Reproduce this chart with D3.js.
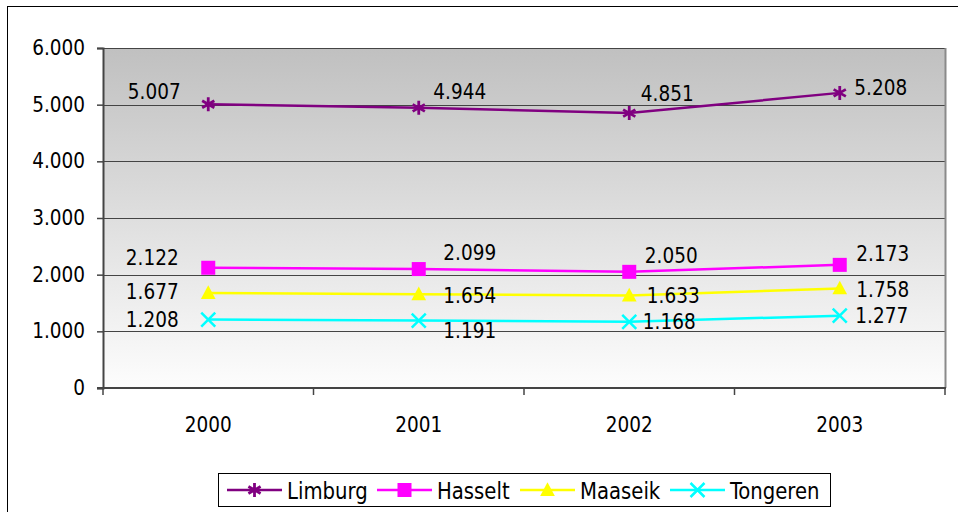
<!DOCTYPE html>
<html lang="en">
<head>
  <meta charset="UTF-8" />
  <title>Limburg</title>
  <script src="https://d3js.org/d3.v7.min.js"></script>
  <style>
    body { margin: 0; background: #fff; }
    svg { display: block; font-family: 'DejaVu Sans Condensed', 'DejaVu Sans', sans-serif; }
  </style>
</head>
<body>
  <svg id="chart" width="958" height="512"></svg>
  <script>
    const years = ["2000", "2001", "2002", "2003"];
    const seriesNames = ["Limburg", "Hasselt", "Maaseik", "Tongeren"];
    const limburg = [5007, 4944, 4851, 5208];
    const hasselt = [2122, 2099, 2050, 2173];
    const maaseik = [1677, 1654, 1633, 1758];
    const tongeren = [1208, 1191, 1168, 1277];
    const yTicks = [0, 1000, 2000, 3000, 4000, 5000, 6000];

    const colors = ["#800080", "#ff00ff", "#ffff00", "#00ffff"];
    const markers = ["star", "square", "triangle", "cross"];
    // label offsets (px) per series / point, like the excel layout
    const labelOffsets = [
      [[-54, -12], [41, -16], [38, -19], [41, -5]],
      [[-56, -10], [51, -16], [42, -16], [43, -11]],
      [[-56, -1], [51, 2], [44, 1], [43, 2]],
      [[-56, 0], [51, 10], [40, 0], [42, 0]]
    ];

    const allSeries = [limburg, hasselt, maaseik, tongeren];
    const fmt = v => d3.format(",")(v).replace(/,/g, ".");
    const fontSize = "20.5px";

    const svg = d3.select("#chart");
    const plot = { left: 103, right: 945, top: 48, bottom: 388 };

    const x = d3.scaleBand().domain(years).range([plot.left, plot.right]);
    const y = d3.scaleLinear().domain([0, 6000]).range([plot.bottom, plot.top]);

    // outer chart border
    svg.append("rect")
      .attr("x", 7.5).attr("y", 6.5).attr("width", 980).attr("height", 540)
      .attr("fill", "none").attr("stroke", "#000").attr("stroke-width", 1);

    const defs = svg.append("defs");
    const grad = defs.append("linearGradient").attr("id", "bg")
      .attr("x1", 0).attr("y1", 0).attr("x2", 0).attr("y2", 1);
    grad.append("stop").attr("offset", "0%").attr("stop-color", "#c0c0c0");
    grad.append("stop").attr("offset", "100%").attr("stop-color", "#fdfdfd");

    svg.append("rect")
      .attr("x", plot.left).attr("y", plot.top)
      .attr("width", plot.right - plot.left).attr("height", plot.bottom - plot.top)
      .attr("fill", "url(#bg)");

    // gridlines
    svg.append("g").selectAll("line")
      .data(yTicks.filter(d => d > 0))
      .join("line")
      .attr("x1", plot.left).attr("x2", plot.right)
      .attr("y1", d => Math.round(y(d)) + 0.5).attr("y2", d => Math.round(y(d)) + 0.5)
      .attr("stroke", "#444").attr("stroke-width", 1.2);

    // right border of plot area
    svg.append("line")
      .attr("x1", plot.right + 0.5).attr("x2", plot.right + 0.5)
      .attr("y1", plot.top).attr("y2", plot.bottom)
      .attr("stroke", "#8a8a8a").attr("stroke-width", 2);

    // y axis
    const yAxis = svg.append("g")
      .attr("transform", `translate(${plot.left},0)`)
      .call(d3.axisLeft(y).tickValues(yTicks).tickSize(6).tickPadding(12).tickFormat(fmt));
    yAxis.select(".domain").attr("stroke", "#444").attr("stroke-width", 2);
    yAxis.selectAll(".tick line").attr("stroke", "#444").attr("stroke-width", 1.5);
    yAxis.selectAll("text").attr("font-size", fontSize).attr("fill", "#000")
      .attr("font-family", "'DejaVu Sans Condensed', sans-serif");

    // x axis with ticks at category boundaries
    const xAxisG = svg.append("g");
    xAxisG.append("line")
      .attr("x1", plot.left - 6).attr("x2", plot.right + 1)
      .attr("y1", plot.bottom).attr("y2", plot.bottom)
      .attr("stroke", "#444").attr("stroke-width", 2);
    const bounds = years.map(d => x(d)).concat([x(years[years.length - 1]) + x.bandwidth()]);
    xAxisG.selectAll("line.tk").data(bounds).join("line").attr("class", "tk")
      .attr("x1", d => d).attr("x2", d => d)
      .attr("y1", plot.bottom).attr("y2", plot.bottom + 7)
      .attr("stroke", "#444").attr("stroke-width", 1.5);
    xAxisG.selectAll("text").data(years).join("text")
      .attr("x", d => x(d) + x.bandwidth() / 2)
      .attr("y", plot.bottom + 44)
      .attr("text-anchor", "middle")
      .attr("font-size", fontSize)
      .text(d => d);

    function drawMarker(g, type, color, s) {
      if (type === "star") {
        g.append("path")
          .attr("d", `M0,${-s}V${s}M${-s * 0.87},${-s * 0.5}L${s * 0.87},${s * 0.5}M${-s * 0.87},${s * 0.5}L${s * 0.87},${-s * 0.5}`)
          .attr("stroke", color).attr("stroke-width", 2.8).attr("fill", "none");
      } else if (type === "square") {
        g.append("rect").attr("x", -s).attr("y", -s).attr("width", 2 * s).attr("height", 2 * s)
          .attr("fill", color);
      } else if (type === "triangle") {
        g.append("path").attr("d", `M0,${-s * 1.1}L${s * 1.05},${s * 0.85}L${-s * 1.05},${s * 0.85}Z`).attr("fill", color);
      } else {
        g.append("path")
          .attr("d", `M${-s},${-s}L${s},${s}M${-s},${s}L${s},${-s}`)
          .attr("stroke", color).attr("stroke-width", 2.5).attr("fill", "none");
      }
    }

    const line = d3.line()
      .x((d, i) => x(years[i]) + x.bandwidth() / 2)
      .y(d => y(d));

    allSeries.forEach((vals, si) => {
      const g = svg.append("g");
      g.append("path").datum(vals)
        .attr("d", line)
        .attr("fill", "none")
        .attr("stroke", colors[si])
        .attr("stroke-width", 2.5);

      vals.forEach((v, i) => {
        const cx = x(years[i]) + x.bandwidth() / 2;
        const cy = y(v);
        const m = g.append("g").attr("transform", `translate(${cx},${cy})`);
        drawMarker(m, markers[si], colors[si], 7);
        const off = labelOffsets[si][i];
        g.append("text")
          .attr("x", cx + off[0]).attr("y", cy + off[1])
          .attr("text-anchor", "middle")
          .attr("dominant-baseline", "central")
          .attr("font-size", fontSize)
          .attr("fill", "#000")
          .text(fmt(v));
      });
    });

    // legend
    const legend = svg.append("g");
    legend.append("rect")
      .attr("x", 218.5).attr("y", 473.5).attr("width", 612).attr("height", 33)
      .attr("fill", "#fff").attr("stroke", "#000").attr("stroke-width", 1);
    const legendX = [227, 377, 520, 670];
    seriesNames.forEach((name, si) => {
      const lx = legendX[si];
      const ly = 490;
      legend.append("line")
        .attr("x1", lx).attr("x2", lx + 55).attr("y1", ly).attr("y2", ly)
        .attr("stroke", colors[si]).attr("stroke-width", 2.5);
      const m = legend.append("g").attr("transform", `translate(${lx + 27.5},${ly})`);
      drawMarker(m, markers[si], colors[si], 7);
      legend.append("text")
        .attr("transform", `translate(${lx + 60},${ly + 1}) scale(0.93,1)`)
        .attr("dominant-baseline", "central")
        .attr("font-size", "23.5px")
        .text(name);
    });
  </script>
</body>
</html>
